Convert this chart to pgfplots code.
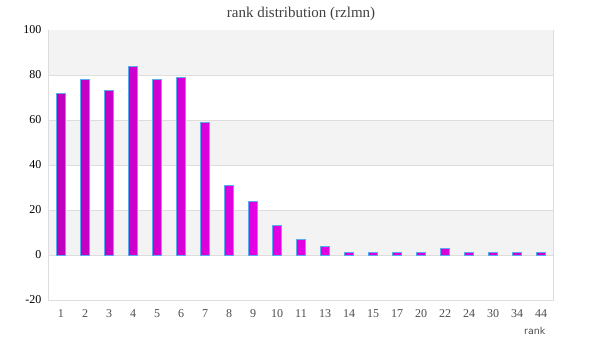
\documentclass[border=0pt]{standalone}
\usepackage{pgfplots}
\pgfplotsset{compat=1.18}
\usepackage{fontspec}
\setmainfont{Liberation Serif}
\newfontfamily\labelfont{DejaVu Sans}
\definecolor{bardark}{HTML}{8E008E}
\definecolor{barbright}{HTML}{E400E4}
\definecolor{barline}{HTML}{5AAAF0}
\definecolor{band}{HTML}{F3F3F3}
\definecolor{gridc}{HTML}{DDDDDD}
\pgfdeclarehorizontalshading{barshade}{100bp}{color(0bp)=(bardark); color(45bp)=(barbright); color(70bp)=(barbright!85!bardark); color(100bp)=(bardark!80!barbright)}
\pgfplotstableread{
x y
0 72
1 78
2 73
3 84
4 78
5 79
6 59
7 31
8 24
9 13
10 7
11 4
12 1
13 1
14 1
15 1
16 3
17 1
18 1
19 1
20 1
}\ranks
\begin{document}
\begin{tikzpicture}
\useasboundingbox (0,0) rectangle (600pt,360pt);
\begin{axis}[
  at={(49pt,60pt)}, anchor=south west,
  scale only axis, width=504pt, height=270pt,
  xmin=-0.5, xmax=20.5, ymin=-20, ymax=100,
  ytick={-20,0,20,40,60,80,100},
  xtick={0,...,20},
  xticklabels={1,2,3,4,5,6,7,8,9,10,11,13,14,15,17,20,22,24,30,34,44},
  /pgf/number format/assume math mode=true,
  axis line style={gridc, line width=1pt},
  major tick length=0pt,
  tick style={draw=none},
  yticklabel style={font=\fontsize{12}{14}\selectfont, text=black, xshift=-4pt},
  xticklabel style={font=\fontsize{12}{14}\selectfont, text=black!70, yshift=-6pt},
  title={rank distribution (rzlmn)},
  title style={font=\fontsize{15}{17}\selectfont, text=black!75, yshift=0pt},
  xlabel={rank},
  xlabel style={font=\labelfont\fontsize{9.5}{11}\selectfont, text=black!70, at={(rel axis cs:1,0)}, anchor=north east, yshift=-24pt, xshift=-4pt},
  ybar, bar width=9pt,
  clip=false,
]
\fill[band] (axis cs:-0.5,0) rectangle (axis cs:20.5,20);
\fill[band] (axis cs:-0.5,40) rectangle (axis cs:20.5,60);
\fill[band] (axis cs:-0.5,80) rectangle (axis cs:20.5,100);
\draw[gridc, line width=1pt] (axis cs:-0.5,0) -- (axis cs:20.5,0);
\draw[gridc, line width=1pt] (axis cs:-0.5,20) -- (axis cs:20.5,20);
\draw[gridc, line width=1pt] (axis cs:-0.5,40) -- (axis cs:20.5,40);
\draw[gridc, line width=1pt] (axis cs:-0.5,60) -- (axis cs:20.5,60);
\draw[gridc, line width=1pt] (axis cs:-0.5,80) -- (axis cs:20.5,80);
\addplot[draw=none, shading=barshade, bar shift=0pt] table[x=x,y=y] {\ranks};
\addplot[draw=barline, line width=1pt, fill=none, bar shift=0pt] table[x=x,y=y] {\ranks};
\end{axis}
\end{tikzpicture}
\end{document}
